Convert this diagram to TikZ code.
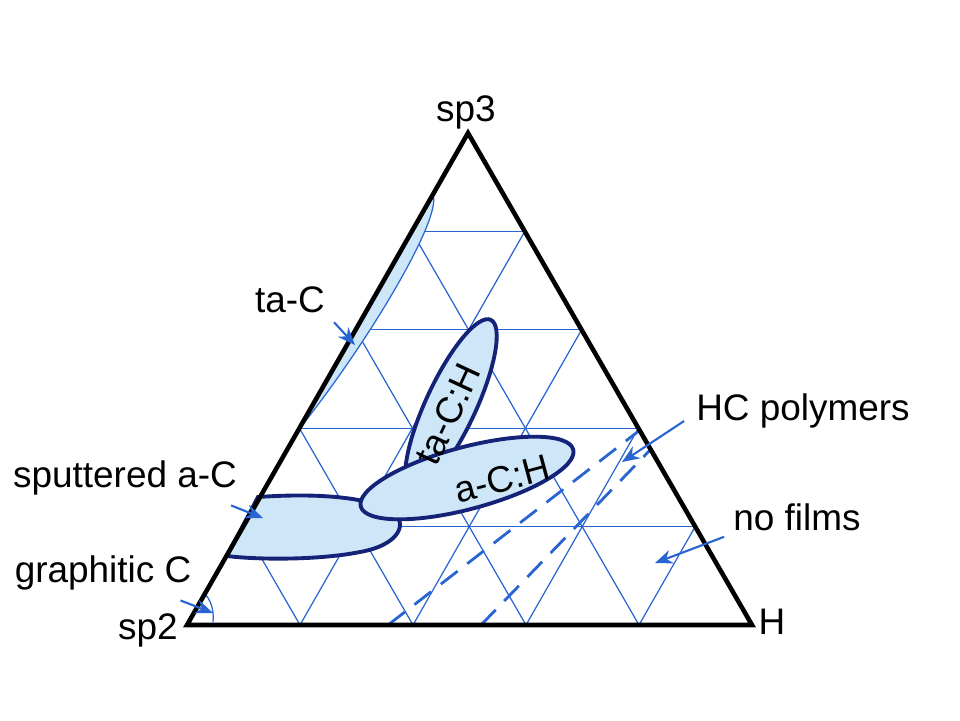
\documentclass[tikz,border=0pt]{standalone}
\usepackage{fontspec}
\setmainfont{Liberation Sans}
\usetikzlibrary{calc,arrows.meta,positioning}
\definecolor{gridblue}{RGB}{40,100,210}
\definecolor{fillblue}{RGB}{205,230,248}
\definecolor{edgeblue}{RGB}{20,35,120}
\tikzset{
    grid line/.style={gridblue, line width=0.35pt},
    region/.style={fill=fillblue, draw=edgeblue, line width=1.1pt},
    label text/.style={font=\fontsize{10.5}{12}\selectfont, inner sep=1pt},
    pointer/.style={-{Stealth[length=5pt,width=4pt]}, gridblue, line width=0.6pt},
    border dashed/.style={gridblue, line width=0.8pt, dash pattern=on 6pt off 3.5pt}
}
\begin{document}
\begin{tikzpicture}[x=0.01cm,y=-0.01cm]
    \useasboundingbox (0,0) rectangle (960,720);
    \coordinate (A) at (187,625);
    \coordinate (B) at (752,625);
    \coordinate (C) at (468,133);
    % grid
    \foreach \i in {1,...,4}{
      \draw[grid line] ($(A)!\i/5!(C)$) -- ($(B)!\i/5!(C)$);
      \draw[grid line] ($(A)!\i/5!(B)$) -- ($(C)!\i/5!(B)$);
      \draw[grid line] ($(B)!\i/5!(A)$) -- ($(C)!\i/5!(A)$);
    }
    % dashed borders
    \coordinate (d1a) at (388,625); \coordinate (d1b) at (640,430);
    \coordinate (d2a) at (481,625); \coordinate (d2b) at (652,448);
    \draw[border dashed] (d1a) -- (d1b);
    \draw[border dashed] (d2a) -- (d2b);
    % ta-C sliver
    \fill[fillblue] (300,428) -- (433,195) .. controls (442,218) and (370,340) .. cycle;
    \draw[grid line] (433,195) .. controls (442,218) and (370,340) .. (300,428);
    % graphitic C arc
    \draw[grid line] (203,592) .. controls (212,600) and (214,612) .. (213,622);
    % regions
    \draw[region] (227,556) -- (258,497) .. controls (330,492) and (372,500) .. (390,510)
        .. controls (410,522) and (400,545) .. (360,552) .. controls (320,560) and (260,560) .. cycle;
    \draw[region, shift={(451,405)}, rotate=65] (0,0) ellipse (94 and 25);
    \draw[region, shift={(467,478)}, rotate=15] (0,0) ellipse (110 and 31);
    \node[label text, rotate=65] (tacH) at (448,414) {ta-C:H};
    \node[label text, rotate=15] (acH) at (502,479) {a-C:H};
    % triangle
    \draw[line width=1.3pt, line join=miter] (A) -- (B) -- (C) -- cycle;
    % labels
    \node[label text] (sp3) at (466,112) {sp3};
    \node[label text] (sp2) at (148,630) {sp2};
    \node[label text] (H) at (772,622) {H};
    \node[label text] (tac) at (290,300) {ta-C};
    \node[label text] (sput) at (125,478) {sputtered a-C};
    \node[label text] (graph) at (103,573) {graphitic C};
    \node[label text] (hcp) at (803,411) {HC polymers};
    \node[label text] (nofilm) at (797,517) {no films};
    \coordinate (tacP) at (355,345);
    \coordinate (sputP) at (263,518);
    \coordinate (graphP) at (213,613);
    \coordinate (hcpP) at (622,462);
    \coordinate (nofilmP) at (655,563);
    \draw[pointer] (tac.south east) ++(5,5) -- (tacP);
    \draw[pointer] (sput.south east) ++(-10,6) -- (sputP);
    \draw[pointer] (graph.south east) ++(-15,6) -- (graphP);
    \draw[pointer] (hcp.west) ++(-8,10) -- (hcpP);
    \draw[pointer] (nofilm.south west) ++(-5,2) -- (nofilmP);
\end{tikzpicture}
\end{document}
